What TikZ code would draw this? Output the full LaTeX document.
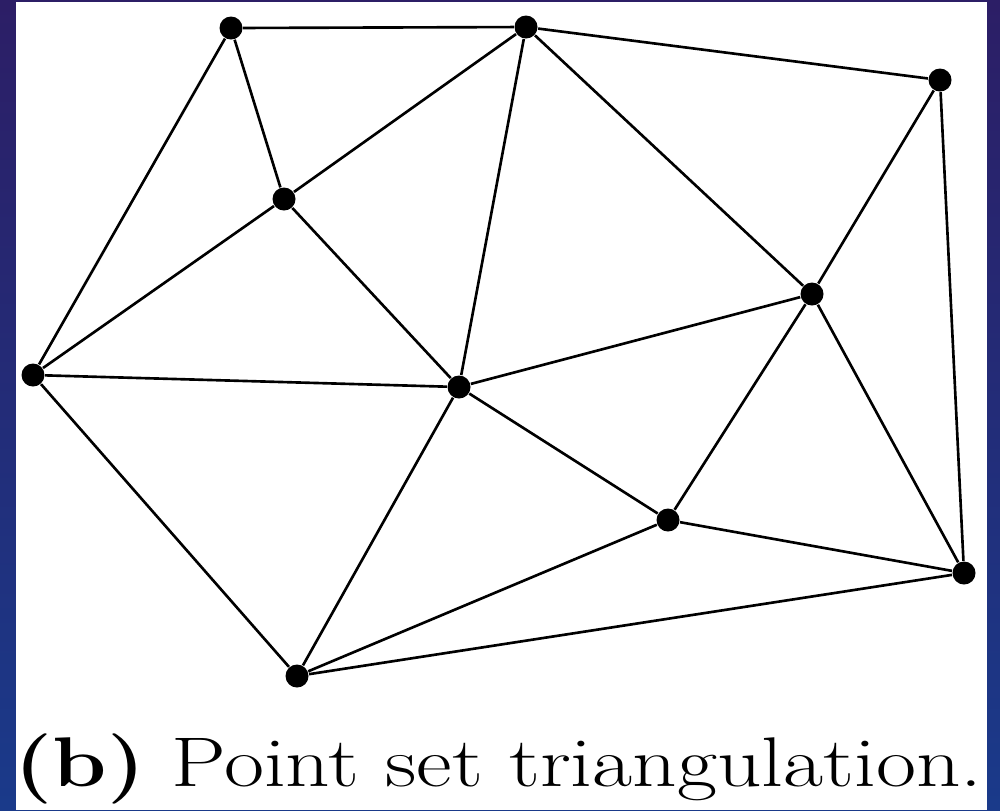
\documentclass[tikz,border=0pt]{standalone}
\usepackage{graphicx}
\begin{document}
\begin{tikzpicture}[x=1cm,y=1cm,
  pt/.style={circle,fill=black,inner sep=0pt,minimum size=0.23cm},
  edge/.style={draw=black,line width=0.75pt}]
\definecolor{bgtop}{RGB}{44,30,102}
\definecolor{bgbot}{RGB}{26,58,138}
\useasboundingbox (0,0) rectangle (10,-8.1);
\shade[top color=bgtop,bottom color=bgbot] (0,0) rectangle (10,-8.1);
\fill[white] (0.16,-0.02) rectangle (9.87,-8.1);
\node[pt] (A) at (2.31,-0.28) {};
\node[pt] (B) at (5.26,-0.27) {};
\node[pt] (C) at (9.40,-0.80) {};
\node[pt] (D) at (2.84,-1.99) {};
\node[pt] (E) at (0.33,-3.75) {};
\node[pt] (F) at (4.59,-3.87) {};
\node[pt] (G) at (8.12,-2.94) {};
\node[pt] (H) at (6.68,-5.20) {};
\node[pt] (I) at (9.64,-5.73) {};
\node[pt] (J) at (2.97,-6.76) {};
\draw[edge] (A)--(B) (B)--(C) (A)--(E) (A)--(D) (D)--(B) (B)--(F) (B)--(G)
  (C)--(G) (C)--(I) (D)--(E) (D)--(F) (E)--(F) (E)--(J) (F)--(J) (F)--(G)
  (F)--(H) (G)--(H) (G)--(I) (H)--(I) (H)--(J) (J)--(I);
\node[anchor=base,inner sep=0pt,font=\fontsize{20}{24}\selectfont] (cap) at (4.985,-7.86) {\scalebox{1.24}[1]{\textbf{(b)} Point set triangulation.}};
\end{tikzpicture}
\end{document}
